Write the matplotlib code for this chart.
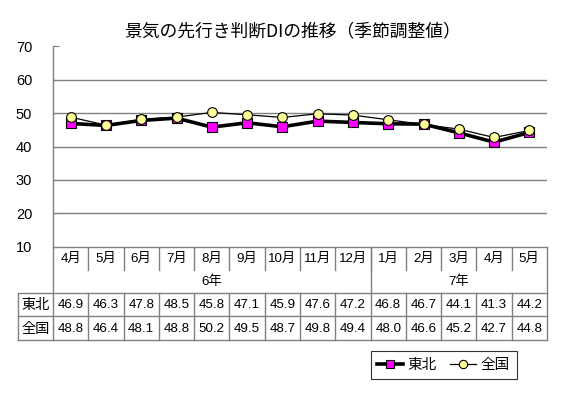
#!/usr/bin/env python3
"""景気の先行き判断DIの推移 (季節調整値) - line chart with data table below."""
import matplotlib
matplotlib.use("Agg")
import matplotlib.pyplot as plt
from matplotlib.lines import Line2D
from matplotlib.transforms import blended_transform_factory

plt.rcParams["font.family"] = ["Liberation Sans", "Noto Sans CJK JP", "DejaVu Sans"]

# ---------------------------------------------------------------------------
# data
# ---------------------------------------------------------------------------
months = ["4月", "5月", "6月", "7月", "8月", "9月", "10月", "11月", "12月",
          "1月", "2月", "3月", "4月", "5月"]
years = [("6年", 0, 8), ("7年", 9, 13)]
tohoku = [46.9, 46.3, 47.8, 48.5, 45.8, 47.1, 45.9, 47.6, 47.2,
          46.8, 46.7, 44.1, 41.3, 44.2]
zenkoku = [48.8, 46.4, 48.1, 48.8, 50.2, 49.5, 48.7, 49.8, 49.4,
           48.0, 46.6, 45.2, 42.7, 44.8]
series_names = ["東北", "全国"]
yticks = [10, 20, 30, 40, 50, 60, 70]
title = "景気の先行き判断DIの推移（季節調整値）"

# ---------------------------------------------------------------------------
# layout (pixels)
# ---------------------------------------------------------------------------
W, H = 563, 393
ax_left, ax_right = 53, 547
ax_top, ax_bot = 46.3, 246.7
tbl_left = 18
row_month = 269.5
row_year = 292.7
row_tohoku = 316.3
row_zenkoku = 340.0
grid_c = "#808080"
cjk = ["Noto Sans CJK JP", "DejaVu Sans"]

fig = plt.figure(figsize=(W / 100, H / 100), dpi=100)
ax = fig.add_axes([ax_left / W, (H - ax_bot) / H,
                   (ax_right - ax_left) / W, (ax_bot - ax_top) / H])

n = len(months)
xs = list(range(n))
ax.set_xlim(-0.5, n - 0.5)
ax.set_ylim(10, 70)

for s in ["top", "right", "bottom"]:
    ax.spines[s].set_visible(False)
ax.spines["left"].set_color(grid_c)
ax.spines["left"].set_linewidth(1.0)

ax.set_yticks(yticks)
ax.set_yticklabels([str(v) for v in yticks], fontsize=10.5)
ax.tick_params(axis="y", direction="in", length=4, color=grid_c, pad=15)
ax.set_xticks([])
for v in yticks[1:-1]:
    ax.axhline(v, color=grid_c, lw=1.0, zorder=1)
ax.axhline(10, color=grid_c, lw=1.0, zorder=1, clip_on=False)

ax.plot(xs, tohoku, color="black", lw=2.6, marker="s", ms=6.5,
        mfc="#FF00FF", mec="black", mew=0.8, zorder=3)
ax.plot(xs, zenkoku, color="black", lw=0.9, marker="o", ms=7,
        mfc="#FFFF99", mec="black", mew=0.8, zorder=4)

fig.text(293 / W, 1 - 31 / H, title, fontsize=12.8, ha="center", va="center",
         family=cjk)

# ---------------------------------------------------------------------------
# data table below the chart
# ---------------------------------------------------------------------------
tr = blended_transform_factory(ax.transData, fig.transFigure)


def fy(py):
    return 1 - py / H


def fx(px):
    return px / W


def hline(y, x0, x1):
    fig.add_artist(Line2D([fx(x0), fx(x1)], [fy(y), fy(y)],
                          color=grid_c, lw=1.0))


def vline(x, y0, y1, data=True):
    t = tr if data else fig.transFigure
    xv = x if data else fx(x)
    fig.add_artist(Line2D([xv, xv], [fy(y0), fy(y1)], color=grid_c, lw=1.0,
                          transform=t))


tfont = 9.6
for i, m in enumerate(months):
    fig.text(i, fy((ax_bot + row_month) / 2 + 1), m, transform=tr,
             ha="center", va="center", fontsize=tfont)
    if i > 0:
        vline(i - 0.5, ax_bot + 1, row_month)
for label, a, b in years:
    fig.text((a + b) / 2, fy((row_month + row_year) / 2 + 1), label,
             transform=tr, ha="center", va="center", fontsize=tfont)
vline(years[1][1] - 0.5, ax_bot, row_year)
vline(ax_left, ax_bot, row_zenkoku, data=False)

for y in [row_year, row_tohoku, row_zenkoku]:
    hline(y, tbl_left, ax_right)
vline(tbl_left, row_year, row_zenkoku, data=False)
vline(ax_right, ax_bot, row_zenkoku, data=False)
for i in range(1, n):
    vline(i - 0.5, row_year, row_zenkoku)

for name, vals, (y0, y1) in [(series_names[0], tohoku, (row_year, row_tohoku)),
                             (series_names[1], zenkoku, (row_tohoku, row_zenkoku))]:
    yc = fy((y0 + y1) / 2 + 0.5)
    fig.text(fx((tbl_left + ax_left) / 2), yc, name, ha="center", va="center",
             fontsize=tfont + 0.6, family=cjk)
    for i, v in enumerate(vals):
        fig.text(i, yc, f"{v:.1f}", transform=tr, ha="center", va="center",
                 fontsize=tfont)

# ---------------------------------------------------------------------------
# legend
# ---------------------------------------------------------------------------
h1 = Line2D([], [], color="black", lw=2.6, marker="s", ms=5.5,
            mfc="#FF00FF", mec="black", mew=0.8)
h2 = Line2D([], [], color="black", lw=0.9, marker="o", ms=6,
            mfc="#FFFF99", mec="black", mew=0.8)
leg = fig.legend([h1, h2], series_names, ncol=2, loc="center",
                 bbox_to_anchor=(fx(443.5), fy(365)), frameon=True,
                 fancybox=False, edgecolor="black",
                 handlelength=1.8, handletextpad=0.3, columnspacing=0.9,
                 borderpad=0.45, prop={"family": cjk, "size": 10.5})
leg.get_frame().set_linewidth(0.8)

fig.savefig("out.png", dpi=100)
